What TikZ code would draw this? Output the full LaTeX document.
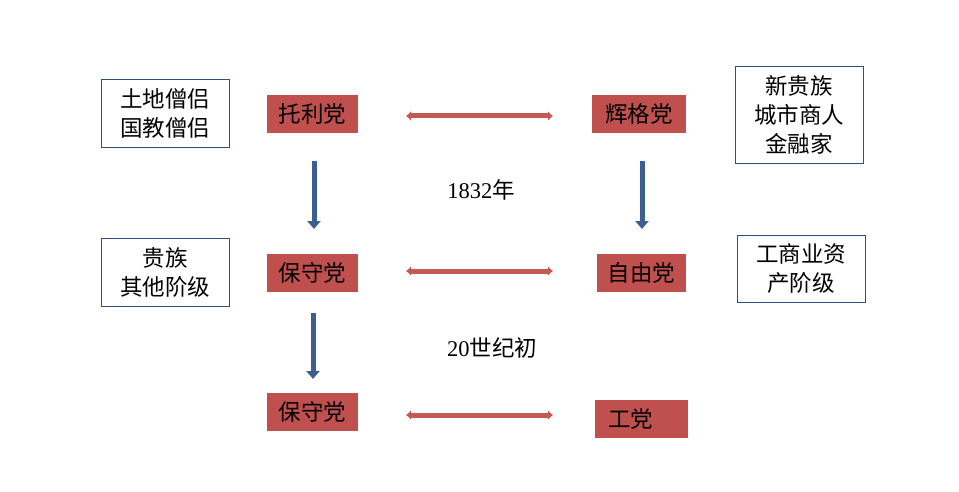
\documentclass[tikz,border=0pt]{standalone}
\usepackage{fontspec}
\setmainfont{Liberation Serif}
\newfontfamily\cjk{Noto Sans CJK SC}
\usetikzlibrary{arrows.meta}
\definecolor{partyred}{HTML}{C0504D}
\definecolor{arrowred}{HTML}{C45A57}
\definecolor{arrowblue}{HTML}{3B5F91}
\definecolor{boxblue}{HTML}{2F4F7F}
\tikzset{
  party/.style={fill=partyred, draw=none, inner sep=0pt, font=\cjk\fontsize{22.5}{28}\selectfont, text=black},
  group/.style={draw=boxblue, line width=0.9pt, fill=white, inner sep=0pt, align=center, font=\cjk\fontsize{22.5}{29}\selectfont},
  lab/.style={font=\fontsize{22.5}{28}\selectfont, inner sep=0pt},
  dbl/.style={draw=arrowred, line width=5pt, {Latex[length=5pt,width=10pt]}-{Latex[length=5pt,width=10pt]}},
  down/.style={draw=arrowblue, line width=5pt, -{Triangle[length=8pt,width=13pt]}}
}
\begin{document}
\begin{tikzpicture}[x=1pt,y=-1pt]
\useasboundingbox (0,0) rectangle (959,492);
\node[group, minimum width=128pt, minimum height=68pt] (g1) at (165,113) {土地僧侣\\国教僧侣};
\node[party, minimum width=91pt, minimum height=38pt] (r1) at (312.5,114) {托利党};
\node[party, minimum width=94pt, minimum height=38pt] (r2) at (639,114) {辉格党};
\node[group, minimum width=128pt, minimum height=97pt] (g2) at (799,114.5) {新贵族\\城市商人\\金融家};
\node[lab] (t1) at (481,190) {1832{\cjk 年}};
\node[group, minimum width=128pt, minimum height=68pt] (g3) at (165,272) {贵族\\其他阶级};
\node[party, minimum width=91pt, minimum height=38pt] (r3) at (312.5,273) {保守党};
\node[party, minimum width=89pt, minimum height=38pt] (r4) at (641.5,273) {自由党};
\node[group, minimum width=128pt, minimum height=67pt] (g4) at (801,268.5) {工商业资\\产阶级};
\node[lab] (t2) at (492,348) {20{\cjk 世纪初}};
\node[party, minimum width=91pt, minimum height=38pt] (r5) at (312.5,412) {保守党};
\node[party, minimum width=93pt, minimum height=38pt] (r6) at (641.5,419) {工党\kern22pt};
% double arrows
\coordinate (d1a) at (406,116); \coordinate (d1b) at (553,116);
\coordinate (d2a) at (406,271); \coordinate (d2b) at (553,271);
\coordinate (d3a) at (406,415); \coordinate (d3b) at (553,415);
\draw[dbl] (d1a) -- (d1b);
\draw[dbl] (d2a) -- (d2b);
\draw[dbl] (d3a) -- (d3b);
% down arrows
\coordinate (v1a) at (314,161); \coordinate (v1b) at (314,229);
\coordinate (v2a) at (642,161); \coordinate (v2b) at (642,229);
\coordinate (v3a) at (313,313); \coordinate (v3b) at (313,379);
\draw[down] (v1a) -- (v1b);
\draw[down] (v2a) -- (v2b);
\draw[down] (v3a) -- (v3b);
\end{tikzpicture}
\end{document}
